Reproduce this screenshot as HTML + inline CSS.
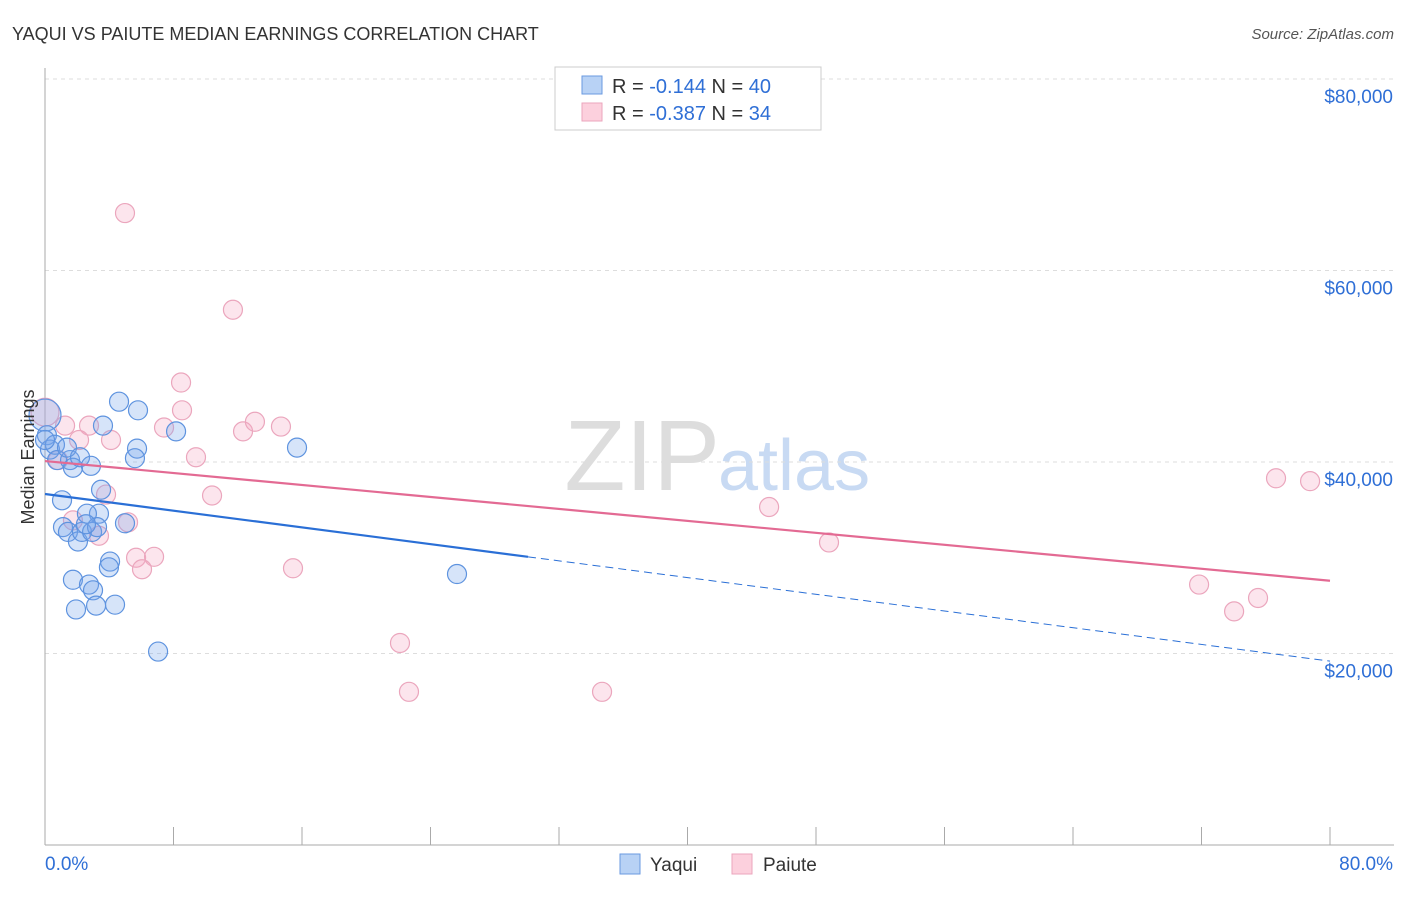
<!DOCTYPE html>
<html><head><meta charset="utf-8"><style>
body{margin:0;background:#fff;font-family:"Liberation Sans",sans-serif;}
svg text{font-family:"Liberation Sans",sans-serif;}
</style></head><body>
<svg id="chart" width="1406" height="892" xmlns="http://www.w3.org/2000/svg">
<text x="12" y="40" font-size="18" fill="#333">YAQUI VS PAIUTE MEDIAN EARNINGS CORRELATION CHART</text>
<text x="1394" y="39" font-size="15" fill="#555" text-anchor="end" font-style="italic">Source: ZipAtlas.com</text>
<text x="720" y="490" font-size="100" text-anchor="end" fill="#ddd" font-family="Liberation Serif">ZIP</text>
<text x="718" y="490" font-size="72" fill="#c8daf3">atlas</text>
<g id="grid"></g><g id="axes"></g><g id="marks"></g>
<g>
<rect x="555" y="67" width="266" height="63" fill="#fff" stroke="#ccc"/>
<rect x="582" y="76" width="20" height="18" fill="#b8d2f5" stroke="#6a9ae0"/>
<rect x="582" y="103" width="20" height="18" fill="#fcd0dd" stroke="#eba6bd"/>
<text x="612" y="93" font-size="20" fill="#333">R = <tspan fill="#2f6fd6">-0.144</tspan>   N = <tspan fill="#2f6fd6">40</tspan></text>
<text x="612" y="120" font-size="20" fill="#333">R = <tspan fill="#2f6fd6">-0.387</tspan>   N = <tspan fill="#2f6fd6"> 34</tspan></text>
</g>
<g>
<rect x="620" y="854" width="20" height="20" fill="#b8d2f5" stroke="#6a9ae0"/>
<text x="650" y="871" font-size="19" fill="#333">Yaqui</text>
<rect x="732" y="854" width="20" height="20" fill="#fcd0dd" stroke="#eba6bd"/>
<text x="763" y="871" font-size="19" fill="#333">Paiute</text>
</g>
<text transform="translate(34,457) rotate(-90)" font-size="18" fill="#333" text-anchor="middle">Median Earnings</text>
</svg>
<script>
const yaquiX=[0,0.12,0.31,0.62,0.75,1.56,1.37,1.74,2.18,2.86,3.49,3.36,2.61,1.06,1.12,1.43,2.05,2.30,2.93,3.24,2.55,4.05,3.98,1.74,2.74,2.99,1.93,3.18,4.36,4.61,5.79,3.61,8.16,5.73,5.60,15.69,25.65,7.04,4.98,0];
const yaquiY=[44.9,42.8,41.3,41.8,40.2,40.2,41.5,39.4,40.5,39.6,37.1,34.6,34.6,36.0,33.2,32.7,31.7,32.7,32.7,33.2,33.5,29.6,29.0,27.7,27.2,26.6,24.6,25.0,25.1,46.3,45.4,43.8,43.2,41.4,40.4,41.5,28.3,20.2,33.6,42.3];
const paiuteX=[0,4.98,11.70,8.47,8.53,7.41,9.40,12.33,13.07,14.69,1.25,2.74,2.12,4.11,10.40,3.80,15.44,5.67,6.79,6.04,1.74,3.36,5.17,0.81,45.08,48.81,22.10,22.66,34.68,71.85,74.03,75.52,76.64,78.76];
const paiuteY=[45.2,66.0,55.9,48.3,45.4,43.6,40.5,43.2,44.2,43.7,43.8,43.8,42.3,42.3,36.5,36.6,28.9,30.0,30.1,28.8,33.9,32.3,33.7,40.2,35.3,31.6,21.1,16.0,16.0,27.2,24.4,25.8,38.3,38.0];
const yTicks=[20,40,60,80];
const yTickLabels=["$20,000","$40,000","$60,000","$80,000"];
const xTicks=[0,8,16,24,32,40,48,56,64,72,80];
const trendYaqui=[36.66,19.2]; const yaquiSolidEnd=30.07;
const trendPaiute=[40.1,27.6];
const NS="http://www.w3.org/2000/svg";
const xs=v=>45+v*(1285/80);
const ys=v=>845-v*(766/80);
function mk(parent,tag,attrs){const e=document.createElementNS(NS,tag);for(const k in attrs)e.setAttribute(k,attrs[k]);document.getElementById(parent).appendChild(e);return e;}
yTicks.forEach((t,i)=>{
 const l=mk('grid','line',{x1:45,x2:1394,y1:ys(t),y2:ys(t),stroke:'#ddd','stroke-dasharray':'4,4'});
 
 
 const tx=mk('axes','text',{x:1393,y:ys(t)+24,'font-size':19,fill:'#2f6fd6','text-anchor':'end'});
 tx.textContent=yTickLabels[i];
 
 
});
const ax=mk('axes','line',{x1:45,x2:45,y1:68,y2:845,stroke:'#aaa'});


const bx=mk('axes','line',{x1:45,x2:1394,y1:845,y2:845,stroke:'#aaa'});


xTicks.forEach(t=>{const l=mk('axes','line',{x1:xs(t),x2:xs(t),y1:827,y2:845,stroke:'#aaa'});
 
 });
[[0,'0.0%','start',45],[80,'80.0%','end',1393]].forEach(a=>{const t=mk('axes','text',{x:a[3],y:870,'font-size':19,fill:'#2f6fd6','text-anchor':a[2]});t.textContent=a[1];
 
 });
function dot(x,y,r,c){const e=mk('marks','circle',{cx:xs(x),cy:ys(y),r:r,fill:c[0],stroke:c[1],'stroke-width':1.2});return e;}
const pc=['rgba(246,170,195,0.3)','#eba6bd'], bc=['rgba(120,165,235,0.3)','#5e93df'];
paiuteX.forEach((x,i)=>{const e=dot(x,paiuteY[i],i===0?14:9.5,pc);
 
 });
yaquiX.forEach((x,i)=>{const e=dot(x,yaquiY[i],i===0?16:9.5,bc);
 
 });
const ty=v=>trendYaqui[0]+(trendYaqui[1]-trendYaqui[0])*v/80;
const tp=v=>trendPaiute[0]+(trendPaiute[1]-trendPaiute[0])*v/80;
let l=mk('marks','line',{x1:xs(0),y1:ys(tp(0)),x2:xs(80),y2:ys(tp(80)),stroke:'#e36a93','stroke-width':2.2});


l=mk('marks','line',{x1:xs(0),y1:ys(ty(0)),x2:xs(yaquiSolidEnd),y2:ys(ty(yaquiSolidEnd)),stroke:'#2a6fd6','stroke-width':2.2});


l=mk('marks','line',{x1:xs(yaquiSolidEnd),y1:ys(ty(yaquiSolidEnd)),x2:xs(80),y2:ys(ty(80)),stroke:'#2a6fd6','stroke-width':1,'stroke-dasharray':'8,5'});


</script>
</body></html>
